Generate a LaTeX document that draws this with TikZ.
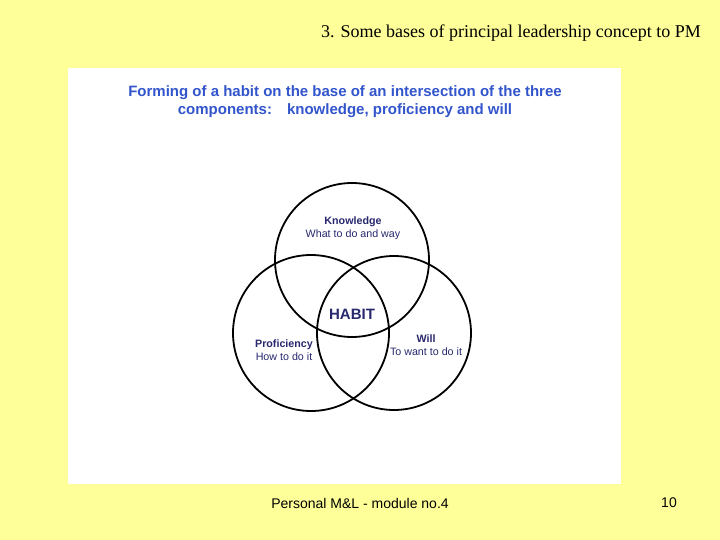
\documentclass[tikz,border=0pt]{standalone}
\usepackage{fontspec}
\setmainfont{Liberation Serif}
\setsansfont{Liberation Sans}
\definecolor{bgy}{RGB}{255,255,153}
\definecolor{ttl}{RGB}{51,85,204}
\definecolor{nav}{RGB}{40,40,110}
\begin{document}
\begin{tikzpicture}[x=1pt,y=-1pt,
  circ/.style={draw=black,line width=1.8pt},
  lab/.style={font=\sffamily\fontsize{10.7}{13}\selectfont,text=nav,align=center,inner sep=0pt}]
\fill[bgy] (0,0) rectangle (720,540);
\useasboundingbox (0,0) rectangle (720,540);
\fill[white] (68,68) rectangle (621,484);
\node[font=\fontsize{18}{20}\selectfont] (hdr) at (511,33) {3. Some bases of principal leadership concept to PM};
\node[font=\sffamily\bfseries\fontsize{15}{18}\selectfont,text=ttl,align=center] (ttl) at (345,102)
 {Forming of a habit on the base of an intersection of the three\\components:\quad knowledge, proficiency and will};
\draw[circ] (352,260) circle (77);
\draw[circ] (311,333) circle (78);
\draw[circ] (394,333) circle (77);
\node[lab] (k) at (353,228) {\textbf{Knowledge}\\What to do and way};
\node[lab] (p) at (284,350) {\textbf{Proficiency}\\How to do it};
\node[lab] (w) at (426,345) {\textbf{Will}\\To want to do it};
\node[font=\sffamily\bfseries\fontsize{15}{17}\selectfont,text=nav] (h) at (352,314) {HABIT};
\node[font=\sffamily\fontsize{14}{16}\selectfont] (ft) at (360,503) {Personal M\&L - module no.4};
\node[font=\sffamily\fontsize{14}{16}\selectfont] (pg) at (669,503) {10};
\end{tikzpicture}
\end{document}
